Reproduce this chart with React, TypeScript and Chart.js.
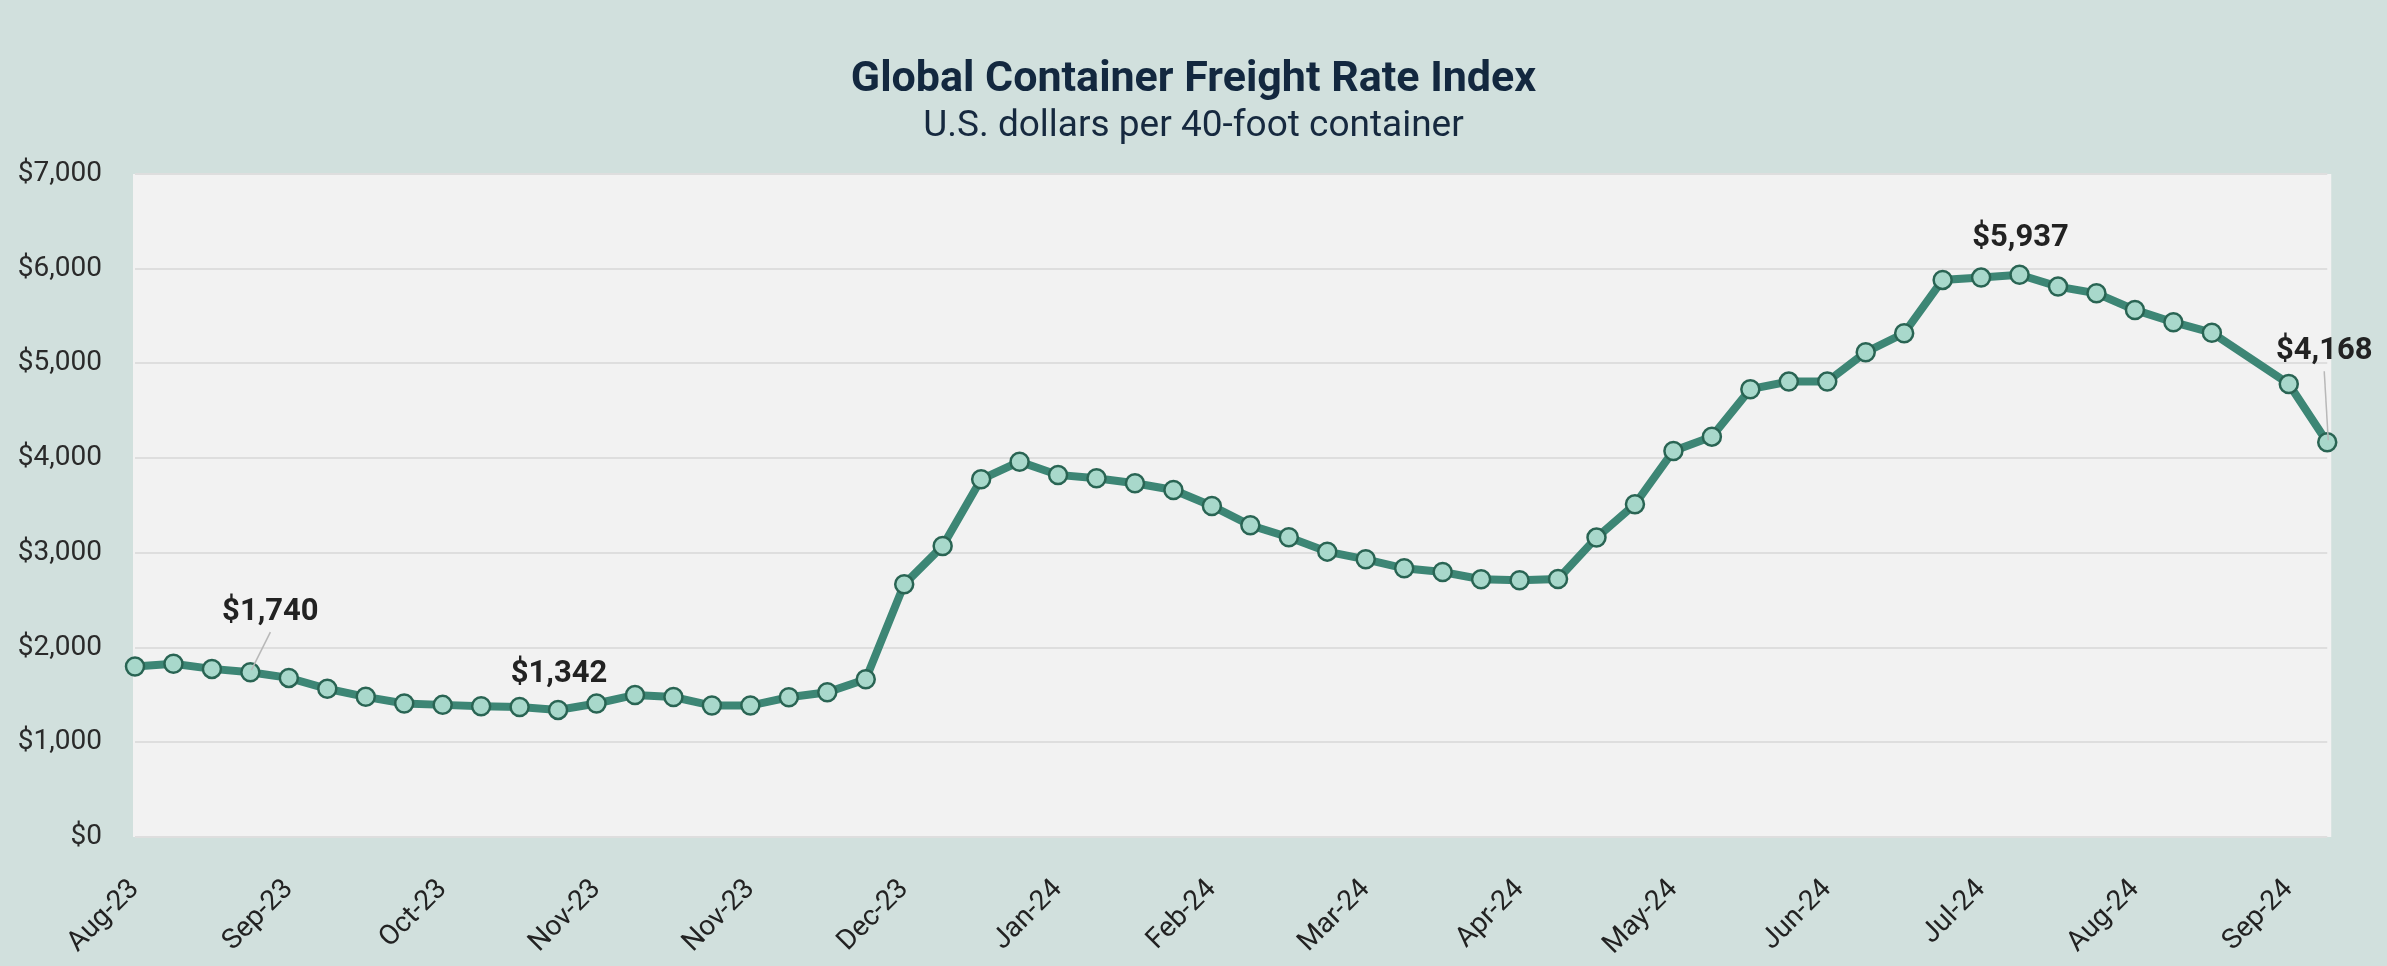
import React, { useEffect, useRef } from "react";
import { Chart, registerables } from "chart.js";

Chart.register(...registerables);

const tickLabels = [
  "Aug-23", "Sep-23", "Oct-23", "Nov-23", "Nov-23", "Dec-23", "Jan-24", "Feb-24",
  "Mar-24", "Apr-24", "May-24", "Jun-24", "Jul-24", "Aug-24", "Sep-24",
];

// weekly index values (USD per 40-ft container); one missing week (null)
const rateValues: (number | null)[] = [
  1800, 1830, 1775, 1740, 1680, 1565, 1480, 1410, 1395, 1380, 1372, 1342,
  1410, 1500, 1478, 1388, 1388, 1475, 1528, 1665, 2668, 3073, 3777, 3963,
  3823, 3788, 3735, 3664, 3495, 3291, 3165, 3013, 2932, 2837, 2798, 2721,
  2710, 2724, 3161, 3513, 4076, 4227, 4728, 4808, 4808, 5118, 5319, 5882,
  5906, 5937, 5811, 5741, 5565, 5435, 5325, null, 4783, 4168,
];

// one category per week, tick label every fourth week
const categories = rateValues.map((_, i) => (i % 4 === 0 ? tickLabels[i / 4] : ""));

const yTicks = [0, 1000, 2000, 3000, 4000, 5000, 6000, 7000];

const annotatedIndices = [3, 11, 49, 57];

const titleText = "Global Container Freight Rate Index";
const subtitleText = "U.S. dollars per 40-foot container";

const fmt = (v: number) => "$" + v.toLocaleString("en-US");

export default function App() {
  const canvasRef = useRef<HTMLCanvasElement | null>(null);

  useEffect(() => {
    document.body.style.margin = "0";
    document.body.style.overflow = "hidden";
    const canvas = canvasRef.current;
    if (!canvas) return;

    // label placement relative to the point
    const annotationStyle: Record<number, { dx: number; dy: number; leader: boolean }> = {
      3: { dx: 20, dy: -52, leader: true },
      11: { dx: 1, dy: -28, leader: false },
      49: { dx: 1, dy: -29, leader: false },
      57: { dx: -3, dy: -83, leader: true },
    };

    const bgPlugin = {
      id: "plotBg",
      beforeDraw(chart: any) {
        const { ctx, chartArea } = chart;
        ctx.save();
        ctx.fillStyle = "#f2f2f2";
        ctx.fillRect(chartArea.left - 2, chartArea.top, chartArea.right - chartArea.left + 6, chartArea.bottom - chartArea.top);
        ctx.restore();
      },
    };

    const textPlugin = {
      id: "texts",
      afterDraw(chart: any) {
        const { ctx } = chart;
        ctx.save();
        ctx.textAlign = "center";
        ctx.textBaseline = "alphabetic";
        ctx.fillStyle = "#13283f";
        ctx.font = "bold 43px Roboto";
        ctx.fillText(titleText, chart.width / 2, 91);
        ctx.font = "37px Roboto";
        ctx.fillStyle = "#16293f";
        ctx.fillText(subtitleText, chart.width / 2, 136);

        const meta = chart.getDatasetMeta(0);
        annotatedIndices.forEach((idx) => {
          const pt = meta.data[idx];
          const v = rateValues[idx];
          if (!pt || v == null) return;
          const st = annotationStyle[idx];
          const lx = pt.x + st.dx;
          const ly = pt.y + st.dy;
          if (st.leader) {
            ctx.strokeStyle = "#b8b8b8";
            ctx.lineWidth = 1.5;
            ctx.beginPath();
            ctx.moveTo(lx, ly + 12);
            ctx.lineTo(pt.x + 1, pt.y - 2);
            ctx.stroke();
          }
          ctx.font = "bold 31px Roboto";
          ctx.fillStyle = "#222222";
          ctx.textAlign = "center";
          ctx.fillText(fmt(v), lx, ly);
        });
        ctx.restore();
      },
    };

    const chart = new Chart(canvas, {
      type: "line",
      data: {
        labels: categories,
        datasets: [
          {
            data: rateValues,
            borderColor: "#3d8675",
            borderWidth: 8,
            pointRadius: 9,
            pointHoverRadius: 9,
            pointBorderWidth: 2.5,
            pointBackgroundColor: "#a8d8cb",
            pointBorderColor: "#296453",
            tension: 0,
            spanGaps: true,
            clip: false as any,
          },
        ],
      },
      options: {
        responsive: false,
        animation: false,
        devicePixelRatio: 1,
        layout: { padding: { top: 174, right: 58, bottom: 0, left: 0 } },
        plugins: {
          legend: { display: false },
          tooltip: { enabled: false },
          title: { display: false },
        },
        scales: {
          x: {
            type: "category",
            offset: false,
            grid: { display: false, drawTicks: false },
            border: { display: false },
            ticks: {
              autoSkip: false,
              minRotation: 45,
              maxRotation: 45,
              padding: 36,
              color: "#222222",
              font: { family: "Roboto", size: 28 },
            },
            afterFit: (scale: any) => {
              scale.height = 129;
            },
          },
          y: {
            min: 0,
            max: 7000,
            afterBuildTicks: (scale: any) => {
              scale.ticks = yTicks.map((v) => ({ value: v }));
            },
            grid: { color: "#dedede", lineWidth: 2, drawTicks: false },
            border: { display: false },
            ticks: {
              padding: 33,
              color: "#2a2a2a",
              font: { family: "Roboto", size: 28 },
              callback: (v: any) => fmt(Number(v)),
            },
            afterFit: (scale: any) => {
              scale.width = 135;
            },
          },
        },
      },
      plugins: [bgPlugin, textPlugin],
    });

    return () => chart.destroy();
  }, []);

  return (
    <div style={{ width: 2387, height: 966, background: "#d1e0dd", position: "relative" }}>
      <canvas ref={canvasRef} width={2387} height={966} style={{ display: "block" }} />
    </div>
  );
}
